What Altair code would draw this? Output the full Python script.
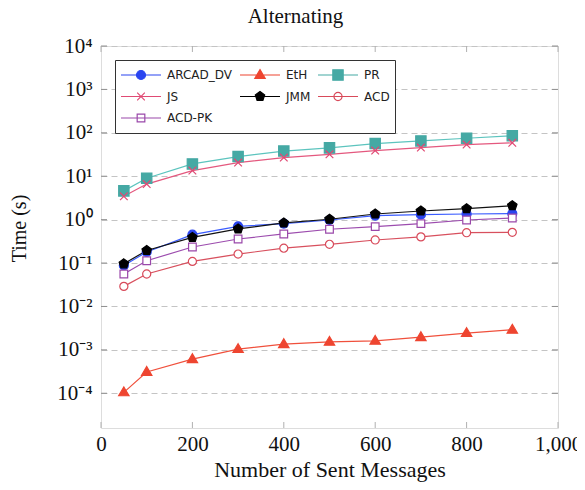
import math
import altair as alt
import pandas as pd

# ---------------- data ----------------
x_vals = [50, 100, 200, 300, 400, 500, 600, 700, 800, 900]
series_names = ["ARCAD_DV", "EtH", "PR", "JS", "JMM", "ACD", "ACD-PK"]
arcad_dv = [0.088, 0.18, 0.45, 0.70, 0.81, 0.98, 1.24, 1.30, 1.35, 1.38]
eth = [1.05e-4, 3.1e-4, 6.1e-4, 1.04e-3, 1.35e-3, 1.53e-3, 1.61e-3, 1.96e-3, 2.43e-3, 2.9e-3]
pr = [4.6, 9.0, 19.2, 28.4, 38, 45, 56.6, 65, 75, 86]
js = [3.45, 6.6, 13.5, 20.6, 26.9, 32, 39, 45.8, 53.7, 58.7]
jmm = [0.096, 0.195, 0.39, 0.61, 0.84, 1.02, 1.35, 1.58, 1.79, 2.1]
acd = [0.029, 0.056, 0.109, 0.161, 0.22, 0.27, 0.34, 0.40, 0.50, 0.51]
acd_pk = [0.056, 0.113, 0.234, 0.358, 0.468, 0.60, 0.69, 0.81, 0.98, 1.09]
series_values = [arcad_dv, eth, pr, js, jmm, acd, acd_pk]

x_ticks = [0, 200, 400, 600, 800, 1000]
y_ticks = [1e-4, 1e-3, 1e-2, 1e-1, 1, 10, 100, 1000, 10000]
y_tick_labels = ["10⁻⁴", "10⁻³", "10⁻²", "10⁻¹", "10⁰", "10¹", "10²", "10³", "10⁴"]

# ---------------- styles ----------------
line_colors = ["#3a5cff", "#f0503c", "#5cc4be", "#e4587e", "#111111", "#d8505e", "#9c4cae"]
mark_colors = ["#2a45f0", "#ee4530", "#45a9a4", "#e04a74", "#000000", "#d84a5a", "#9a48aa"]
mark_fills = ["#2a45f0", "#ee4530", "#45a9a4", "#e04a74", "#000000", "#ffffff", "#ffffff"]


def fmt(v):
    return f"{v:.3f}".rstrip("0").rstrip(".") if abs(v) > 1e-9 else "0"


def poly(pts, s=1.0):
    return "M" + "L".join(f"{fmt(x * s)},{fmt(y * s)}" for x, y in pts) + "Z"


def circ(r, s=1.0):
    r = r * s
    return (f"M{fmt(r)},0A{fmt(r)},{fmt(r)},0,1,1,{fmt(-r)},0"
            f"A{fmt(r)},{fmt(r)},0,1,1,{fmt(r)},0Z")


def square(h, s=1.0):
    return poly([(-h, -h), (h, -h), (h, h), (-h, h)], s)


def cross(h, s=1.0):
    h = h * s
    return f"M{fmt(-h)},{fmt(-h)}L{fmt(h)},{fmt(h)}M{fmt(-h)},{fmt(h)}L{fmt(h)},{fmt(-h)}"


def pentagon(r, s=1.0):
    pts = [(r * math.cos(math.radians(-90 + 72 * k)), r * math.sin(math.radians(-90 + 72 * k)))
           for k in range(5)]
    return poly(pts, s)


def triangle(s=1.0):
    return poly([(0, -1.2), (1.15, 0.75), (-1.15, 0.75)], s)


def marker(name, s=1.0):
    return {
        "ARCAD_DV": circ(1.0, s),
        "EtH": triangle(s),
        "PR": square(1.15, s),
        "JS": cross(0.85, s),
        "JMM": pentagon(1.1, s),
        "ACD": circ(0.9, s),
        "ACD-PK": square(0.85, s),
    }[name]


plot_shapes = [marker(n) for n in series_names]
legend_shapes = ["M-1,0H1" + marker(n, 0.225) for n in series_names]

rows = []
for name, vals in zip(series_names, series_values):
    for xv, yv in zip(x_vals, vals):
        rows.append({"series": name, "x": xv, "y": yv})
df = pd.DataFrame(rows)

W, H = 457, 382
x_scale = alt.Scale(domain=[0, 1000], nice=False, zero=False)
y_scale = alt.Scale(type="log", domain=[10 ** -4.8, 10 ** 4], nice=False)

label_expr = "[" + ",".join(f"'{t}'" for t in y_tick_labels) + "][round(log(datum.value)/LN10)+4]"

x_axis = alt.Axis(
    title="Number of Sent Messages", values=x_ticks, format=",.0f", grid=False,
    ticks=False, domain=False, labelFont="Liberation Serif", labelFontSize=21,
    labelColor="#111", labelPadding=5, titleFont="Liberation Serif", titleFontSize=22,
    titleFontWeight="normal", titleColor="#111", titleY=48, titleBaseline="alphabetic",
    labelFlush=False,
)
y_axis = alt.Axis(
    title="Time (s)", values=y_ticks, labelExpr=label_expr, grid=True,
    gridDash=[6, 4], gridColor="#c4c4c4", gridWidth=1, ticks=False, domain=False,
    labelFont="Liberation Serif", labelFontSize=21, labelColor="#111", labelPadding=9,
    titleFont="Liberation Serif", titleFontSize=20, titleFontWeight="normal",
    titleColor="#111", titleX=-82, titleY=182, titleBaseline="middle", labelFlush=False,
)

xt_df = pd.DataFrame({"xt": x_ticks})
yt_df = pd.DataFrame({"yt": y_ticks})

xt_bottom = alt.Chart(xt_df).mark_rule(color="#b0b0b0", strokeWidth=1).encode(
    x=alt.X("xt:Q", scale=x_scale, axis=x_axis), y=alt.value(H), y2=alt.value(H - 6))
xt_top = alt.Chart(xt_df).mark_rule(color="#b0b0b0", strokeWidth=1).encode(
    x=alt.X("xt:Q", scale=x_scale, axis=x_axis), y=alt.value(0), y2=alt.value(6))
yt_left = alt.Chart(yt_df).mark_rule(color="#909090", strokeWidth=1).encode(
    y=alt.Y("yt:Q", scale=y_scale, axis=y_axis), x=alt.value(0), x2=alt.value(6))
yt_right = alt.Chart(yt_df).mark_rule(color="#909090", strokeWidth=1).encode(
    y=alt.Y("yt:Q", scale=y_scale, axis=y_axis), x=alt.value(W), x2=alt.value(W - 6))

lines = alt.Chart(df).mark_line(strokeWidth=1.2).encode(
    x=alt.X("x:Q", scale=x_scale, axis=x_axis),
    y=alt.Y("y:Q", scale=y_scale, axis=y_axis),
    color=alt.Color("series:N", scale=alt.Scale(domain=series_names, range=line_colors), legend=None),
    detail="series:N",
)

points = alt.Chart(df).mark_point(filled=True, opacity=1, size=81, strokeWidth=1.2).encode(
    x=alt.X("x:Q", scale=x_scale, axis=x_axis),
    y=alt.Y("y:Q", scale=y_scale, axis=y_axis),
    fill=alt.Fill("series:N", scale=alt.Scale(domain=series_names, range=mark_fills), legend=None),
    stroke=alt.Stroke("series:N", scale=alt.Scale(domain=series_names, range=mark_colors), legend=None),
    shape=alt.Shape("series:N", scale=alt.Scale(domain=series_names, range=plot_shapes), legend=None),
)

legend_kw = dict(
    title=None, orient="none", legendX=14, legendY=14, columns=3, direction="horizontal",
    symbolSize=1600, clipHeight=20, rowPadding=1.5, columnPadding=6, labelOffset=5, padding=5,
    labelFont="DejaVu Sans", labelFontSize=12, labelColor="#222",
    fillColor="white", strokeColor="#333", symbolStrokeWidth=1.2, symbolOpacity=1,
)

# legend carrier: draws no marks, only supplies the legend (line + marker symbols)
legend_layer = alt.Chart(df).transform_filter("false").mark_point(
    filled=True, opacity=1, size=1600, strokeWidth=1.2
).encode(
    x=alt.X("x:Q", scale=x_scale, axis=x_axis),
    y=alt.Y("y:Q", scale=y_scale, axis=y_axis),
    fill=alt.Fill("series:N", scale=alt.Scale(domain=series_names, range=mark_fills),
                  legend=alt.Legend(**legend_kw)),
    stroke=alt.Stroke("series:N", scale=alt.Scale(domain=series_names, range=mark_colors),
                      legend=alt.Legend(**legend_kw)),
    shape=alt.Shape("series:N", scale=alt.Scale(domain=series_names, range=legend_shapes),
                    legend=alt.Legend(**legend_kw)),
)

chart = alt.layer(xt_bottom, xt_top, yt_left, yt_right, lines, points, legend_layer).resolve_scale(
    fill="independent", stroke="independent", shape="independent"
).properties(
    width=W, height=H,
    title=alt.TitleParams("Alternating", font="Liberation Serif", fontSize=21,
                          fontWeight="normal", color="#111", anchor="middle",
                          frame="group", dx=-34, offset=8),
    autosize=alt.AutoSizeParams(type="none"),
    padding={"left": 93, "top": 38, "right": 19, "bottom": 54},
).configure_view(stroke="#444", strokeWidth=1.2).configure(background="white")

chart.save("out.html", embed_options={"renderer": "svg", "actions": False})
